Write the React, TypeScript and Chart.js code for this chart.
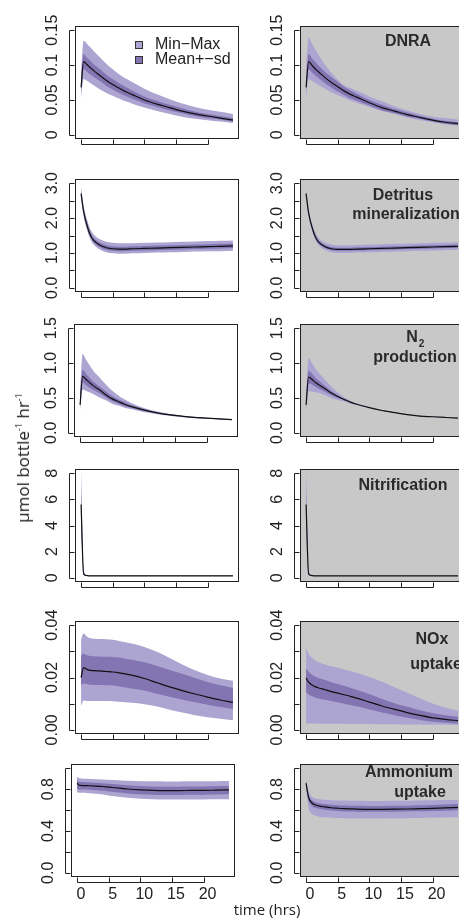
import React, { useEffect, useRef } from 'react';
import { Chart, registerables } from 'chart.js';

Chart.register(...registerables);

// ---------- data ----------
const TIME = [0, 0.4, 1, 1.5, 2, 3, 4, 5, 6, 7, 8, 10, 12, 14, 16, 18, 20, 22, 24];
const X_TICKS = [0, 5, 10, 15, 20];
const X_LABELS = ['0', '5', '10', '15', '20'];

// DNRA (left = no gray, right = gray)
const DNRA_L_MEAN = [0.068, 0.105, 0.100, 0.096, 0.092, 0.085, 0.078, 0.072, 0.067, 0.062, 0.058, 0.050, 0.044, 0.039, 0.034, 0.030, 0.027, 0.024, 0.021];
const DNRA_L_MMHI = [0.088, 0.135, 0.130, 0.125, 0.120, 0.111, 0.102, 0.094, 0.087, 0.081, 0.076, 0.066, 0.058, 0.051, 0.045, 0.040, 0.036, 0.033, 0.030];
const DNRA_L_MMLO = [0.052, 0.080, 0.077, 0.074, 0.071, 0.065, 0.060, 0.056, 0.052, 0.048, 0.045, 0.039, 0.034, 0.030, 0.026, 0.023, 0.021, 0.019, 0.017];
const DNRA_L_SDHI = [0.075, 0.116, 0.110, 0.106, 0.101, 0.094, 0.086, 0.080, 0.074, 0.069, 0.064, 0.055, 0.049, 0.043, 0.038, 0.033, 0.030, 0.027, 0.024];
const DNRA_L_SDLO = [0.061, 0.094, 0.090, 0.086, 0.083, 0.077, 0.070, 0.065, 0.060, 0.056, 0.052, 0.045, 0.040, 0.035, 0.031, 0.027, 0.024, 0.022, 0.019];

const DNRA_R_MEAN = [0.068, 0.105, 0.099, 0.094, 0.090, 0.082, 0.075, 0.069, 0.063, 0.058, 0.054, 0.046, 0.039, 0.034, 0.029, 0.025, 0.021, 0.018, 0.016];
const DNRA_R_MMHI = [0.090, 0.140, 0.130, 0.122, 0.114, 0.100, 0.089, 0.079, 0.071, 0.067, 0.063, 0.055, 0.048, 0.041, 0.035, 0.030, 0.026, 0.024, 0.022];
const DNRA_R_MMLO = [0.052, 0.080, 0.077, 0.074, 0.071, 0.066, 0.061, 0.057, 0.053, 0.049, 0.046, 0.040, 0.034, 0.030, 0.025, 0.021, 0.018, 0.015, 0.013];
const DNRA_R_SDHI = [0.075, 0.116, 0.109, 0.104, 0.099, 0.090, 0.083, 0.076, 0.069, 0.064, 0.059, 0.050, 0.043, 0.037, 0.032, 0.027, 0.023, 0.020, 0.018];
const DNRA_R_SDLO = [0.061, 0.094, 0.089, 0.085, 0.081, 0.074, 0.068, 0.062, 0.057, 0.052, 0.049, 0.042, 0.035, 0.031, 0.026, 0.023, 0.019, 0.016, 0.014];

// Detritus mineralization
const DET_L_MEAN = [2.70, 2.20, 1.75, 1.50, 1.36, 1.22, 1.15, 1.12, 1.11, 1.11, 1.12, 1.13, 1.14, 1.15, 1.16, 1.17, 1.18, 1.19, 1.20];
const DET_L_MMHI = [2.90, 2.35, 1.92, 1.67, 1.53, 1.39, 1.32, 1.29, 1.28, 1.28, 1.28, 1.29, 1.30, 1.31, 1.32, 1.33, 1.34, 1.35, 1.36];
const DET_L_MMLO = [2.55, 2.05, 1.62, 1.38, 1.24, 1.09, 1.02, 0.99, 0.98, 0.98, 0.99, 1.00, 1.01, 1.02, 1.03, 1.04, 1.05, 1.05, 1.06];
const DET_L_SDHI = [2.78, 2.27, 1.82, 1.57, 1.43, 1.29, 1.22, 1.19, 1.18, 1.18, 1.19, 1.20, 1.21, 1.22, 1.23, 1.24, 1.25, 1.26, 1.27];
const DET_L_SDLO = [2.63, 2.13, 1.68, 1.44, 1.30, 1.16, 1.09, 1.06, 1.05, 1.05, 1.06, 1.07, 1.08, 1.09, 1.10, 1.11, 1.12, 1.13, 1.14];

const DET_R_MEAN = [2.70, 2.15, 1.70, 1.45, 1.31, 1.18, 1.12, 1.10, 1.10, 1.10, 1.11, 1.12, 1.13, 1.14, 1.15, 1.16, 1.17, 1.18, 1.19];
const DET_R_MMHI = [2.82, 2.27, 1.82, 1.57, 1.43, 1.30, 1.24, 1.22, 1.22, 1.22, 1.23, 1.24, 1.25, 1.26, 1.27, 1.28, 1.29, 1.30, 1.31];
const DET_R_MMLO = [2.60, 2.05, 1.60, 1.35, 1.21, 1.08, 1.02, 1.00, 1.00, 1.00, 1.01, 1.02, 1.03, 1.04, 1.05, 1.06, 1.07, 1.08, 1.09];
const DET_R_SDHI = [2.75, 2.20, 1.75, 1.50, 1.36, 1.23, 1.17, 1.15, 1.15, 1.15, 1.16, 1.17, 1.18, 1.19, 1.20, 1.21, 1.22, 1.23, 1.24];
const DET_R_SDLO = [2.66, 2.11, 1.66, 1.41, 1.27, 1.14, 1.08, 1.06, 1.06, 1.06, 1.07, 1.08, 1.09, 1.10, 1.11, 1.12, 1.13, 1.14, 1.15];

// N2 production
const N2_L_MEAN = [0.40, 0.81, 0.76, 0.72, 0.68, 0.62, 0.55, 0.49, 0.45, 0.41, 0.38, 0.33, 0.29, 0.26, 0.24, 0.22, 0.21, 0.20, 0.19];
const N2_L_MMHI = [0.55, 1.13, 1.04, 0.97, 0.90, 0.80, 0.70, 0.61, 0.54, 0.48, 0.43, 0.36, 0.31, 0.275, 0.25, 0.23, 0.215, 0.205, 0.195];
const N2_L_MMLO = [0.30, 0.62, 0.60, 0.58, 0.56, 0.51, 0.47, 0.42, 0.39, 0.36, 0.34, 0.30, 0.27, 0.245, 0.225, 0.21, 0.20, 0.19, 0.18];
const N2_L_SDHI = [0.45, 0.90, 0.84, 0.79, 0.74, 0.67, 0.60, 0.53, 0.48, 0.44, 0.40, 0.345, 0.30, 0.268, 0.245, 0.225, 0.212, 0.202, 0.192];
const N2_L_SDLO = [0.35, 0.72, 0.68, 0.65, 0.62, 0.57, 0.51, 0.46, 0.42, 0.385, 0.36, 0.315, 0.28, 0.252, 0.235, 0.215, 0.205, 0.195, 0.185];

const N2_R_MEAN = [0.40, 0.80, 0.76, 0.72, 0.69, 0.63, 0.57, 0.52, 0.48, 0.44, 0.41, 0.36, 0.32, 0.29, 0.26, 0.24, 0.23, 0.22, 0.21];
const N2_R_MMHI = [0.55, 1.07, 0.99, 0.92, 0.86, 0.76, 0.66, 0.58, 0.51, 0.46, 0.42, 0.365, 0.325, 0.295, 0.265, 0.245, 0.235, 0.225, 0.215];
const N2_R_MMLO = [0.30, 0.60, 0.59, 0.58, 0.57, 0.54, 0.50, 0.47, 0.45, 0.42, 0.40, 0.355, 0.315, 0.285, 0.255, 0.235, 0.225, 0.215, 0.205];
const N2_R_SDHI = [0.45, 0.89, 0.84, 0.79, 0.75, 0.67, 0.60, 0.54, 0.49, 0.45, 0.415, 0.363, 0.322, 0.292, 0.262, 0.242, 0.232, 0.222, 0.212];
const N2_R_SDLO = [0.35, 0.71, 0.69, 0.66, 0.63, 0.59, 0.54, 0.50, 0.47, 0.43, 0.405, 0.357, 0.318, 0.288, 0.258, 0.238, 0.228, 0.218, 0.208];

// Nitrification
const NIT_L_MEAN = [5.6, 0.30, 0.16, 0.15, 0.15, 0.15, 0.15, 0.15, 0.15, 0.15, 0.15, 0.15, 0.15, 0.15, 0.15, 0.15, 0.15, 0.15, 0.15];
const NIT_L_MMHI = [8.3, 0.60, 0.20, 0.18, 0.17, 0.17, 0.17, 0.17, 0.17, 0.17, 0.17, 0.17, 0.17, 0.17, 0.17, 0.17, 0.17, 0.17, 0.17];
const NIT_L_MMLO = [3.5, 0.20, 0.13, 0.13, 0.13, 0.13, 0.13, 0.13, 0.13, 0.13, 0.13, 0.13, 0.13, 0.13, 0.13, 0.13, 0.13, 0.13, 0.13];
const NIT_L_SDHI = [6.8, 0.40, 0.18, 0.16, 0.16, 0.16, 0.16, 0.16, 0.16, 0.16, 0.16, 0.16, 0.16, 0.16, 0.16, 0.16, 0.16, 0.16, 0.16];
const NIT_L_SDLO = [4.5, 0.25, 0.14, 0.14, 0.14, 0.14, 0.14, 0.14, 0.14, 0.14, 0.14, 0.14, 0.14, 0.14, 0.14, 0.14, 0.14, 0.14, 0.14];

const NIT_R_MEAN = [5.6, 0.30, 0.16, 0.15, 0.15, 0.15, 0.15, 0.15, 0.15, 0.15, 0.15, 0.15, 0.15, 0.15, 0.15, 0.15, 0.15, 0.15, 0.15];
const NIT_R_MMHI = [8.3, 0.60, 0.20, 0.18, 0.17, 0.17, 0.17, 0.17, 0.17, 0.17, 0.17, 0.17, 0.17, 0.17, 0.17, 0.17, 0.17, 0.17, 0.17];
const NIT_R_MMLO = [3.5, 0.20, 0.13, 0.13, 0.13, 0.13, 0.13, 0.13, 0.13, 0.13, 0.13, 0.13, 0.13, 0.13, 0.13, 0.13, 0.13, 0.13, 0.13];
const NIT_R_SDHI = [6.8, 0.40, 0.18, 0.16, 0.16, 0.16, 0.16, 0.16, 0.16, 0.16, 0.16, 0.16, 0.16, 0.16, 0.16, 0.16, 0.16, 0.16, 0.16];
const NIT_R_SDLO = [4.5, 0.25, 0.14, 0.14, 0.14, 0.14, 0.14, 0.14, 0.14, 0.14, 0.14, 0.14, 0.14, 0.14, 0.14, 0.14, 0.14, 0.14, 0.14];

// NOx uptake
const NOX_L_MEAN = [0.0200, 0.0238, 0.0230, 0.0227, 0.0226, 0.0225, 0.0223, 0.0221, 0.0218, 0.0214, 0.0209, 0.0196, 0.0180, 0.0164, 0.0150, 0.0137, 0.0125, 0.0114, 0.0105];
const NOX_L_MMHI = [0.0345, 0.0368, 0.0355, 0.0350, 0.0348, 0.0347, 0.0346, 0.0344, 0.0340, 0.0335, 0.0330, 0.0317, 0.0298, 0.0275, 0.0250, 0.0228, 0.0210, 0.0196, 0.0188];
const NOX_L_MMLO = [0.0090, 0.0112, 0.0110, 0.0110, 0.0110, 0.0110, 0.0110, 0.0109, 0.0107, 0.0105, 0.0103, 0.0098, 0.0089, 0.0077, 0.0066, 0.0056, 0.0048, 0.0042, 0.0037];
const NOX_L_SDHI = [0.0285, 0.0291, 0.0285, 0.0282, 0.0281, 0.0280, 0.0279, 0.0278, 0.0276, 0.0272, 0.0268, 0.0258, 0.0244, 0.0229, 0.0214, 0.0198, 0.0183, 0.0170, 0.0160];
const NOX_L_SDLO = [0.0170, 0.0177, 0.0174, 0.0172, 0.0171, 0.0171, 0.0170, 0.0169, 0.0166, 0.0162, 0.0158, 0.0150, 0.0138, 0.0126, 0.0115, 0.0105, 0.0096, 0.0087, 0.0080];

const NOX_R_MEAN = [0.0198, 0.0182, 0.0170, 0.0164, 0.0160, 0.0153, 0.0146, 0.0140, 0.0134, 0.0128, 0.0121, 0.0106, 0.0091, 0.0078, 0.0066, 0.0055, 0.0046, 0.0040, 0.0035];
const NOX_R_MMHI = [0.0312, 0.0290, 0.0275, 0.0265, 0.0258, 0.0250, 0.0243, 0.0237, 0.0231, 0.0225, 0.0218, 0.0202, 0.0184, 0.0163, 0.0142, 0.0121, 0.0101, 0.0085, 0.0073];
const NOX_R_MMLO = [0.0024, 0.0024, 0.0024, 0.0024, 0.0023, 0.0023, 0.0023, 0.0023, 0.0023, 0.0022, 0.0022, 0.0022, 0.0021, 0.0021, 0.0020, 0.0020, 0.0019, 0.0019, 0.0018];
const NOX_R_SDHI = [0.0235, 0.0222, 0.0210, 0.0203, 0.0198, 0.0190, 0.0182, 0.0175, 0.0168, 0.0161, 0.0153, 0.0136, 0.0118, 0.0102, 0.0088, 0.0075, 0.0064, 0.0056, 0.0050];
const NOX_R_SDLO = [0.0145, 0.0135, 0.0128, 0.0123, 0.0120, 0.0115, 0.0110, 0.0105, 0.0100, 0.0095, 0.0090, 0.0078, 0.0066, 0.0056, 0.0046, 0.0038, 0.0031, 0.0027, 0.0024];

// Ammonium uptake
const NH4_L_MEAN = [0.856, 0.835, 0.834, 0.833, 0.832, 0.829, 0.825, 0.819, 0.813, 0.807, 0.801, 0.793, 0.788, 0.786, 0.786, 0.787, 0.788, 0.790, 0.792];
const NH4_L_MMHI = [0.915, 0.905, 0.900, 0.898, 0.896, 0.894, 0.892, 0.889, 0.886, 0.883, 0.880, 0.876, 0.874, 0.873, 0.873, 0.874, 0.875, 0.876, 0.877];
const NH4_L_MMLO = [0.770, 0.765, 0.765, 0.763, 0.760, 0.755, 0.748, 0.740, 0.732, 0.724, 0.717, 0.708, 0.703, 0.701, 0.700, 0.700, 0.701, 0.702, 0.703];
const NH4_L_SDHI = [0.885, 0.870, 0.868, 0.866, 0.864, 0.861, 0.857, 0.851, 0.846, 0.841, 0.836, 0.829, 0.825, 0.823, 0.823, 0.824, 0.825, 0.827, 0.829];
const NH4_L_SDLO = [0.800, 0.797, 0.797, 0.796, 0.794, 0.790, 0.785, 0.778, 0.771, 0.765, 0.759, 0.751, 0.746, 0.744, 0.744, 0.745, 0.746, 0.748, 0.750];

const NH4_R_MEAN = [0.856, 0.720, 0.665, 0.648, 0.640, 0.630, 0.622, 0.617, 0.613, 0.611, 0.609, 0.607, 0.607, 0.608, 0.610, 0.613, 0.616, 0.620, 0.625];
const NH4_R_MMHI = [0.900, 0.780, 0.725, 0.710, 0.703, 0.698, 0.694, 0.692, 0.690, 0.689, 0.688, 0.687, 0.687, 0.688, 0.689, 0.691, 0.693, 0.695, 0.698];
const NH4_R_MMLO = [0.800, 0.620, 0.560, 0.545, 0.537, 0.530, 0.526, 0.523, 0.521, 0.520, 0.520, 0.520, 0.520, 0.521, 0.522, 0.524, 0.526, 0.528, 0.530];
const NH4_R_SDHI = [0.875, 0.745, 0.690, 0.674, 0.666, 0.657, 0.650, 0.646, 0.643, 0.641, 0.640, 0.639, 0.639, 0.640, 0.642, 0.645, 0.648, 0.652, 0.657];
const NH4_R_SDLO = [0.835, 0.690, 0.635, 0.620, 0.612, 0.602, 0.595, 0.590, 0.587, 0.585, 0.584, 0.583, 0.583, 0.584, 0.586, 0.588, 0.591, 0.594, 0.598];

// y tick values and labels
const Y_TICKS_DNRA = [0, 0.05, 0.1, 0.15];
const Y_LABELS_DNRA = ['0', '0.05', '0.1', '0.15'];
const Y_TICKS_DET = [0, 0.5, 1, 1.5, 2, 2.5, 3];
const Y_LABELS_DET = ['0.0', '', '1.0', '', '2.0', '', '3.0'];
const Y_TICKS_N2 = [0, 0.5, 1, 1.5];
const Y_LABELS_N2 = ['0.0', '0.5', '1.0', '1.5'];
const Y_TICKS_NIT = [0, 2, 4, 6, 8];
const Y_LABELS_NIT = ['0', '2', '4', '6', '8'];
const Y_TICKS_NOX = [0, 0.01, 0.02, 0.03, 0.04];
const Y_LABELS_NOX = ['0.00', '', '0.02', '', '0.04'];
const Y_TICKS_NH4 = [0, 0.2, 0.4, 0.6, 0.8, 1.0];
const Y_LABELS_NH4 = ['0.0', '', '0.4', '', '0.8', ''];

const LEGEND_LABELS = ['Min\u2212Max', 'Mean+\u2212sd'];
const Y_TITLE = 'µmol bottle';
const X_TITLE = 'time (hrs)';

// ---------- styles / layout ----------
const MM_COLOR = '#ada5d1';
const SD_COLOR = '#8374b2';
const GRAY_BG = '#c8c8c8';
const INK = '#222222';
const TICK_FONT = '16px "Liberation Sans", Arial, Helvetica, sans-serif';
const TITLE_FONT = 'bold 16px "Liberation Sans", Arial, Helvetica, sans-serif';

const PADL = 60, PADT = 24, PADR = 4, PADB = 34;
const BOXW = 164, BOXH = 113;
const X_MIN = -0.96, X_MAX = 24.96;

type TitleLine = { text: string; x: number; y: number; sub?: string };
type PanelDef = {
  id: string; left: number; top: number; gray: boolean;
  yMax: number; yTicks: number[]; yLabels: string[];
  mean: number[]; mmHi: number[]; mmLo: number[]; sdHi: number[]; sdLo: number[];
  titles?: TitleLine[]; legend?: boolean; xLabels?: boolean;
};

const PANELS: PanelDef[] = [
  { id: 'dnraL', left: 75, top: 26, gray: false, yMax: 0.15, yTicks: Y_TICKS_DNRA, yLabels: Y_LABELS_DNRA,
    mean: DNRA_L_MEAN, mmHi: DNRA_L_MMHI, mmLo: DNRA_L_MMLO, sdHi: DNRA_L_SDHI, sdLo: DNRA_L_SDLO, legend: true },
  { id: 'dnraR', left: 300, top: 26, gray: true, yMax: 0.15, yTicks: Y_TICKS_DNRA, yLabels: Y_LABELS_DNRA,
    mean: DNRA_R_MEAN, mmHi: DNRA_R_MMHI, mmLo: DNRA_R_MMLO, sdHi: DNRA_R_SDHI, sdLo: DNRA_R_SDLO,
    titles: [{ text: 'DNRA', x: 408, y: 42 }] },
  { id: 'detL', left: 75, top: 179, gray: false, yMax: 3, yTicks: Y_TICKS_DET, yLabels: Y_LABELS_DET,
    mean: DET_L_MEAN, mmHi: DET_L_MMHI, mmLo: DET_L_MMLO, sdHi: DET_L_SDHI, sdLo: DET_L_SDLO },
  { id: 'detR', left: 300, top: 179, gray: true, yMax: 3, yTicks: Y_TICKS_DET, yLabels: Y_LABELS_DET,
    mean: DET_R_MEAN, mmHi: DET_R_MMHI, mmLo: DET_R_MMLO, sdHi: DET_R_SDHI, sdLo: DET_R_SDLO,
    titles: [{ text: 'Detritus', x: 403, y: 196 }, { text: 'mineralization', x: 406, y: 215 }] },
  { id: 'n2L', left: 74, top: 324, gray: false, yMax: 1.5, yTicks: Y_TICKS_N2, yLabels: Y_LABELS_N2,
    mean: N2_L_MEAN, mmHi: N2_L_MMHI, mmLo: N2_L_MMLO, sdHi: N2_L_SDHI, sdLo: N2_L_SDLO },
  { id: 'n2R', left: 300, top: 324, gray: true, yMax: 1.5, yTicks: Y_TICKS_N2, yLabels: Y_LABELS_N2,
    mean: N2_R_MEAN, mmHi: N2_R_MMHI, mmLo: N2_R_MMLO, sdHi: N2_R_SDHI, sdLo: N2_R_SDLO,
    titles: [{ text: 'N', x: 412, y: 338, sub: '2' }, { text: 'production', x: 415, y: 358 }] },
  { id: 'nitL', left: 75, top: 469, gray: false, yMax: 8, yTicks: Y_TICKS_NIT, yLabels: Y_LABELS_NIT,
    mean: NIT_L_MEAN, mmHi: NIT_L_MMHI, mmLo: NIT_L_MMLO, sdHi: NIT_L_SDHI, sdLo: NIT_L_SDLO },
  { id: 'nitR', left: 300, top: 469, gray: true, yMax: 8, yTicks: Y_TICKS_NIT, yLabels: Y_LABELS_NIT,
    mean: NIT_R_MEAN, mmHi: NIT_R_MMHI, mmLo: NIT_R_MMLO, sdHi: NIT_R_SDHI, sdLo: NIT_R_SDLO,
    titles: [{ text: 'Nitrification', x: 403, y: 486 }] },
  { id: 'noxL', left: 75, top: 621, gray: false, yMax: 0.04, yTicks: Y_TICKS_NOX, yLabels: Y_LABELS_NOX,
    mean: NOX_L_MEAN, mmHi: NOX_L_MMHI, mmLo: NOX_L_MMLO, sdHi: NOX_L_SDHI, sdLo: NOX_L_SDLO },
  { id: 'noxR', left: 300, top: 621, gray: true, yMax: 0.04, yTicks: Y_TICKS_NOX, yLabels: Y_LABELS_NOX,
    mean: NOX_R_MEAN, mmHi: NOX_R_MMHI, mmLo: NOX_R_MMLO, sdHi: NOX_R_SDHI, sdLo: NOX_R_SDLO,
    titles: [{ text: 'NOx', x: 432, y: 640 }, { text: 'uptake', x: 436, y: 665 }] },
  { id: 'nh4L', left: 71, top: 764, gray: false, yMax: 1, yTicks: Y_TICKS_NH4, yLabels: Y_LABELS_NH4,
    mean: NH4_L_MEAN, mmHi: NH4_L_MMHI, mmLo: NH4_L_MMLO, sdHi: NH4_L_SDHI, sdLo: NH4_L_SDLO, xLabels: true },
  { id: 'nh4R', left: 300, top: 764, gray: true, yMax: 1, yTicks: Y_TICKS_NH4, yLabels: Y_LABELS_NH4,
    mean: NH4_R_MEAN, mmHi: NH4_R_MMHI, mmLo: NH4_R_MMLO, sdHi: NH4_R_SDHI, sdLo: NH4_R_SDLO, xLabels: true,
    titles: [{ text: 'Ammonium', x: 409, y: 773 }, { text: 'uptake', x: 420, y: 793 }] },
];

// ---------- R-like axes plugin ----------
const rStylePlugin = {
  id: 'rstyle',
  beforeDatasetsDraw(chart: any, _args: any, opts: any) {
    if (!opts || !opts.gray) return;
    const { ctx, chartArea: a } = chart;
    ctx.save();
    ctx.fillStyle = GRAY_BG;
    ctx.fillRect(a.left, a.top, a.right - a.left, a.bottom - a.top);
    ctx.restore();
  },
  afterDraw(chart: any, _args: any, opts: any) {
    if (!opts || !opts.panel) return;
    const p: PanelDef = opts.panel;
    const { ctx, chartArea: a, scales } = chart;
    const xs = scales.x, ys = scales.y;
    const L = Math.round(a.left), T = Math.round(a.top), R = Math.round(a.right), B = Math.round(a.bottom);
    ctx.save();
    ctx.strokeStyle = INK;
    ctx.lineWidth = 1;
    // box
    ctx.strokeRect(L + 0.5, T + 0.5, R - L - 1, B - T - 1);
    // y axis (offset line, ticks toward box)
    const ax = L - 6 + 0.5;
    const yPix = p.yTicks.map((v) => Math.round(ys.getPixelForValue(v)) + 0.5);
    ctx.beginPath();
    ctx.moveTo(ax, yPix[0]);
    ctx.lineTo(ax, yPix[yPix.length - 1]);
    yPix.forEach((y) => { ctx.moveTo(ax, y); ctx.lineTo(ax + 5, y); });
    ctx.stroke();
    // x axis
    const ay = B + 5 + 0.5;
    const xPix = X_TICKS.map((v) => Math.round(xs.getPixelForValue(v)) + 0.5);
    ctx.beginPath();
    ctx.moveTo(xPix[0], ay);
    ctx.lineTo(xPix[xPix.length - 1], ay);
    xPix.forEach((x) => { ctx.moveTo(x, ay); ctx.lineTo(x, ay - 5); });
    ctx.stroke();
    // y labels
    ctx.fillStyle = INK;
    ctx.font = TICK_FONT;
    ctx.textAlign = 'center';
    ctx.textBaseline = 'middle';
    p.yTicks.forEach((v, i) => {
      const lab = p.yLabels[i];
      if (!lab) return;
      ctx.save();
      ctx.translate(L - 22, ys.getPixelForValue(v));
      ctx.rotate(-Math.PI / 2);
      ctx.fillText(lab, 0, 0);
      ctx.restore();
    });
    if (p.xLabels) {
      X_TICKS.forEach((v, i) => {
        ctx.fillText(X_LABELS[i], xs.getPixelForValue(v) + 4, B + 18);
      });
    }
    // titles (page coordinates -> canvas coordinates)
    const ox = p.left - PADL, oy = p.top - PADT;
    if (p.titles) {
      ctx.font = TITLE_FONT;
      ctx.fillStyle = '#2a2a2a';
      p.titles.forEach((t) => {
        ctx.textAlign = 'center';
        ctx.fillText(t.text, t.x - ox, t.y - oy);
        if (t.sub) {
          const w = ctx.measureText(t.text).width;
          ctx.save();
          ctx.font = 'bold 10px "Liberation Sans", Arial, sans-serif';
          ctx.textAlign = 'left';
          ctx.fillText(t.sub, t.x - ox + w / 2 + 1, t.y - oy + 6);
          ctx.restore();
        }
      });
    }
    if (p.legend) {
      const cols = [MM_COLOR, SD_COLOR];
      const ys2 = [44, 59];
      ctx.font = TICK_FONT;
      ctx.textAlign = 'left';
      cols.forEach((c, i) => {
        const bx = 135 - ox, by = ys2[i] - 3 - oy;
        ctx.fillStyle = c;
        ctx.fillRect(bx, by, 7, 7);
        ctx.strokeStyle = '#333';
        ctx.strokeRect(bx + 0.5, by + 0.5, 7, 7);
        ctx.fillStyle = INK;
        ctx.fillText(LEGEND_LABELS[i], 155 - ox, ys2[i] + 1 - oy);
      });
    }
    ctx.restore();
  },
};

function Panel({ p }: { p: PanelDef }) {
  const ref = useRef<HTMLCanvasElement>(null);
  const W = PADL + BOXW + PADR;
  const H = PADT + BOXH + PADB;
  useEffect(() => {
    const pts = (arr: number[]) => TIME.map((t, i) => ({ x: t, y: arr[i] }));
    const band = (arr: number[], color: string | null, fill: any) => ({
      data: pts(arr),
      borderColor: 'rgba(0,0,0,0)',
      borderWidth: 0,
      backgroundColor: color || 'rgba(0,0,0,0)',
      fill,
      pointRadius: 0,
      cubicInterpolationMode: 'monotone' as const,
    });
    const chart = new Chart(ref.current as HTMLCanvasElement, {
      type: 'line',
      data: {
        datasets: [
          { data: pts(p.mean), borderColor: '#111', borderWidth: 1.2, fill: false, pointRadius: 0, cubicInterpolationMode: 'monotone' },
          band(p.sdHi, SD_COLOR, '+1'),
          band(p.sdLo, null, false),
          band(p.mmHi, MM_COLOR, '+1'),
          band(p.mmLo, null, false),
        ] as any,
      },
      options: {
        responsive: false,
        animation: false,
        devicePixelRatio: 1,
        events: [],
        layout: { padding: { left: PADL, top: PADT, right: PADR, bottom: PADB } },
        scales: {
          x: { type: 'linear', min: X_MIN, max: X_MAX, display: false },
          y: { type: 'linear', min: -0.04 * p.yMax, max: 1.04 * p.yMax, display: false },
        },
        plugins: {
          legend: { display: false },
          tooltip: { enabled: false },
          rstyle: { panel: p, gray: p.gray },
        } as any,
      },
      plugins: [rStylePlugin],
    });
    return () => chart.destroy();
  }, [p]);
  return (
    <canvas
      ref={ref}
      width={W}
      height={H}
      style={{ position: 'absolute', left: p.left - PADL, top: p.top - PADT, width: W, height: H }}
    />
  );
}

export default function App() {
  return (
    <div style={{ position: 'fixed', left: 0, top: 0, width: 459, height: 920, overflow: 'hidden', background: '#fff' }}>
      {PANELS.map((p) => <Panel key={p.id} p={p} />)}
      <div
        style={{
          position: 'absolute', left: 21, top: 458, transform: 'translate(-50%, -50%) rotate(-90deg)',
          whiteSpace: 'nowrap', font: '17px "Open Sans", "Noto Sans", sans-serif', color: INK, lineHeight: '20px',
        }}
      >
        {Y_TITLE}<sup style={{ fontSize: '9px', verticalAlign: '7px' }}>-1</sup> hr<sup style={{ fontSize: '9px', verticalAlign: '7px' }}>-1</sup>
      </div>
      <div
        style={{
          position: 'absolute', left: 267, top: 909, transform: 'translate(-50%, -50%)',
          whiteSpace: 'nowrap', font: '15px "Open Sans", "Noto Sans", sans-serif', color: INK, lineHeight: '18px',
        }}
      >
        {X_TITLE}
      </div>
    </div>
  );
}
